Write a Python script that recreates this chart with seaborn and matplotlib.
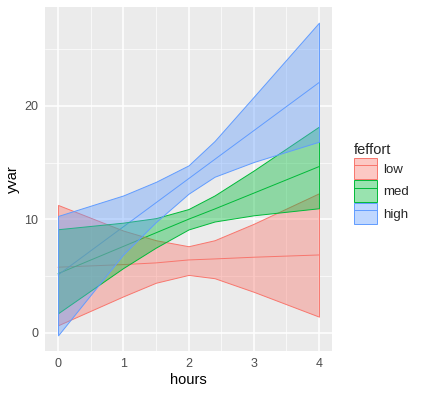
import matplotlib
matplotlib.use("Agg")
import matplotlib.pyplot as plt
from matplotlib.patches import Patch
from matplotlib.lines import Line2D
from matplotlib.colors import to_rgba
from matplotlib.ticker import MultipleLocator
import pandas as pd
import seaborn as sns

# ---- data ----
hours = [0, 1, 1.5, 2, 2.4, 3, 4]
effort_levels = ["low", "med", "high"]

low_fit = [5.77, 6.0, 6.15, 6.41, 6.5, 6.65, 6.85]
low_upper = [11.26, 9.0, 8.15, 7.62, 8.15, 9.6, 12.29]
low_lower = [0.65, 3.2, 4.4, 5.09, 4.8, 3.6, 1.41]

med_fit = [5.2, 7.6, 8.8, 10.0, 10.9, 12.3, 14.64]
med_upper = [9.12, 9.7, 10.1, 10.9, 12.1, 14.3, 18.17]
med_lower = [1.71, 5.7, 7.5, 9.1, 9.8, 10.35, 10.97]

high_fit = [5.09, 9.33, 11.45, 13.57, 15.27, 17.81, 22.05]
high_upper = [10.29, 12.1, 13.3, 14.75, 16.9, 20.8, 27.34]
high_lower = [-0.24, 6.9, 9.75, 12.25, 13.75, 15.05, 16.84]

colors = ["#F8766D", "#00BA38", "#619CFF"]

fits = {"low": low_fit, "med": med_fit, "high": high_fit}
uppers = {"low": low_upper, "med": med_upper, "high": high_upper}
lowers = {"low": low_lower, "med": med_lower, "high": high_lower}

rows = []
for lev in effort_levels:
    for i, h in enumerate(hours):
        rows.append({"feffort": lev, "hours": h, "yvar": fits[lev][i],
                     "lower": lowers[lev][i], "upper": uppers[lev][i]})
df = pd.DataFrame(rows)

# ---- ggplot-ish theme ----
sns.set_theme(style="darkgrid", rc={
    "axes.facecolor": "#EBEBEB",
    "grid.color": "white",
    "figure.facecolor": "white",
})
plt.rcParams["font.family"] = ["Liberation Sans", "DejaVu Sans"]

fig = plt.figure(figsize=(4.24, 3.97), dpi=100)
ax = fig.add_axes([45 / 424, 1 - 351 / 397, (332 - 45) / 424, (351 - 7) / 397])

palette = dict(zip(effort_levels, colors))

# lines first, ribbons on top (as in the reference, lines look muted under fills)
sns.lineplot(data=df, x="hours", y="yvar", hue="feffort", palette=palette,
             estimator=None, sort=False, legend=False, linewidth=0.7, ax=ax, zorder=2)

for lev in effort_levels:
    sub = df[df["feffort"] == lev]
    ax.fill_between(sub["hours"], sub["lower"], sub["upper"],
                    facecolor=to_rgba(palette[lev], 0.4),
                    edgecolor=palette[lev], linewidth=0.7, zorder=3)

ax.set_xlim(-0.2, 4.2)
ax.set_ylim(-1.62, 28.72)
ax.xaxis.set_major_locator(MultipleLocator(1))
ax.xaxis.set_minor_locator(MultipleLocator(0.5))
ax.yaxis.set_major_locator(MultipleLocator(10))
ax.yaxis.set_minor_locator(MultipleLocator(5))
ax.grid(which="major", color="white", linewidth=1.1)
ax.grid(which="minor", color="white", linewidth=0.5)
ax.set_axisbelow(True)
for s in ax.spines.values():
    s.set_visible(False)

ax.tick_params(axis="both", which="major", length=3, width=0.8, color="#333333",
               labelsize=9, labelcolor="#4D4D4D", pad=2)
ax.tick_params(axis="both", which="minor", length=0)
ax.set_xlabel("hours", fontsize=10.5, color="black", labelpad=2)
ax.set_ylabel("yvar", fontsize=10.5, color="black", labelpad=3)

handles = [(Patch(facecolor=to_rgba(c, 0.4), edgecolor=c, linewidth=0.7),
            Line2D([], [], color=c, linewidth=0.7)) for c in colors]
leg = fig.legend(handles, effort_levels, title="feffort",
                 loc="upper left", bbox_to_anchor=(347 / 424, 1 - 136 / 397),
                 frameon=False, fontsize=9.5, title_fontsize=10.5,
                 handlelength=1.8, handleheight=2.1, labelspacing=0.1,
                 handletextpad=0.45, borderpad=0, alignment="left")

fig.savefig("out.png", dpi=100)
